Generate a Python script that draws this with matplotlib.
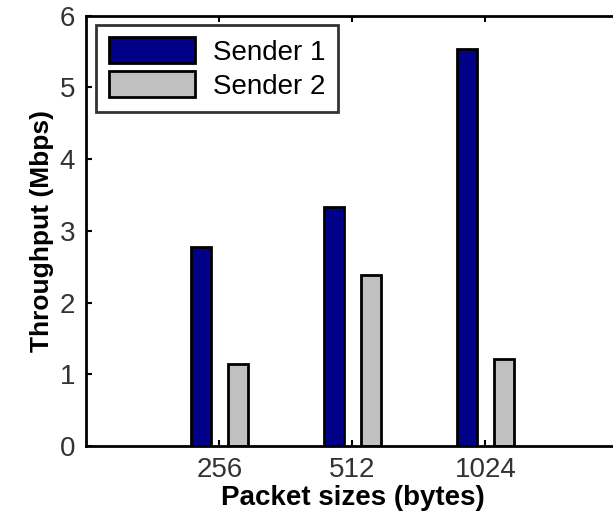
import numpy as np
import matplotlib as mpl
import matplotlib.pyplot as plt

plt.rcParams.update({"font.family": "Liberation Sans"})

# data
packet_sizes = ["256", "512", "1024"]
sender1 = [2.77, 3.33, 5.54]
sender2 = [1.15, 2.38, 1.21]

x = np.arange(1, len(packet_sizes) + 1)
width = 0.15
offset = 0.14

fig = plt.figure(figsize=(6.13, 5.17), dpi=100)
ax = fig.add_axes([0.141, 0.137, 0.868, 0.833])

ax.bar(x - offset, sender1, width, color="#000088", edgecolor="black",
       linewidth=2, label="Sender 1")
ax.bar(x + offset, sender2, width, color="#c0c0c0", edgecolor="black",
       linewidth=2, label="Sender 2")

ax.set_xlim(0, 4)
ax.set_ylim(0, 6)
ax.set_xticks(x)
ax.set_xticklabels(packet_sizes)
ax.set_yticks(range(7))
ax.tick_params(direction="in", length=4, width=1.5, top=True, right=True,
               labelsize=20, labelcolor="#333333", pad=8)
for sp in ax.spines.values():
    sp.set_linewidth(2)

ax.set_xlabel("Packet sizes (bytes)", fontsize=20, fontweight="bold",
              labelpad=1)
ax.set_ylabel("Throughput (Mbps)", fontsize=19, fontweight="bold",
              labelpad=4)

leg = ax.legend(loc="upper left", bbox_to_anchor=(0.018, 0.978),
                borderaxespad=0, fontsize=20, fancybox=False,
                edgecolor="black", handlelength=3.1, handleheight=1.05,
                handletextpad=0.65, labelspacing=0.2, borderpad=0.45)
leg.get_frame().set_linewidth(2)

plt.savefig("out.png", dpi=100)
plt.close(fig)
